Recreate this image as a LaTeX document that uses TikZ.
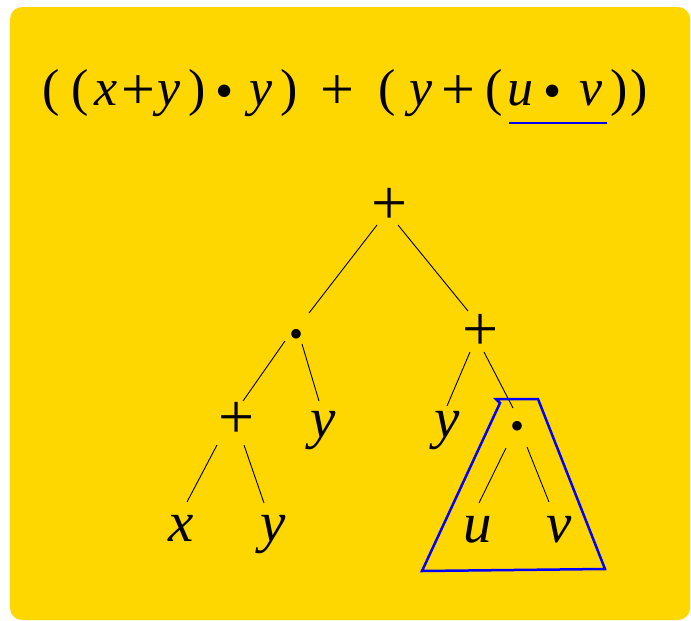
\documentclass[tikz,border=0pt]{standalone}
\usepackage{fontspec}
\setmainfont{Liberation Serif}
\usetikzlibrary{calc}
\definecolor{bggold}{RGB}{255,215,0}
\definecolor{hlblue}{RGB}{0,0,255}
\begin{document}
\begin{tikzpicture}[x=1pt,y=-1pt,
  fml/.style={anchor=base,inner sep=0pt,font=\fontsize{52}{60}\selectfont},
  fmlplus/.style={anchor=base,inner sep=0pt,font=\fontsize{60}{66}\selectfont},
  fmlit/.style={anchor=base,inner sep=0pt,font=\fontsize{52}{60}\selectfont\itshape},
  fmldot/.style={anchor=base,inner sep=0pt,font=\fontsize{52}{60}\selectfont},
  tr/.style={anchor=base,inner sep=0pt,font=\fontsize{64}{70}\selectfont},
  trit/.style={anchor=base,inner sep=0pt,font=\fontsize{57}{64}\selectfont\itshape},
  trdot/.style={anchor=base,inner sep=0pt,font=\fontsize{40}{48}\selectfont},
  edge/.style={draw=black,line width=0.9pt},
  hl/.style={draw=hlblue,line width=2.5pt,line join=miter}]
\useasboundingbox (0,0) rectangle (691,621);
\fill[bggold,rounded corners=12pt] (10,7) rectangle (690,620);
% formula
\node[fml]    (f1)  at (51.5,105) {(};
\node[fml]    (f2)  at (80,105) {(};
\node[fmlit]  (f3)  at (106.5,105) {x};
\node[fmlplus](f4)  at (138.5,109) {+};
\node[fmlit]  (f5)  at (169,105) {y};
\node[fml]    (f6)  at (197.5,105) {)};
\node[fmldot] (f7)  at (225,108.5) {•};
\node[fmlit]  (f8)  at (261.5,105) {y};
\node[fml]    (f9)  at (289,105) {)};
\node[fmlplus](f10) at (337.5,109) {+};
\node[fml]    (f11) at (387.5,105) {(};
\node[fmlit]  (f12) at (421,105) {y};
\node[fmlplus](f13) at (458,109) {+};
\node[fml]    (f14) at (494,105) {(};
\node[fmlit]  (f15) at (520,105) {u};
\node[fmldot] (f16) at (552.5,108.5) {•};
\node[fmlit]  (f17) at (591.5,105) {v};
\node[fml]    (f18) at (619,105) {)};
\node[fml]    (f19) at (639,105) {)};
\draw[draw=hlblue,line width=2pt] (509,122.7) -- (607,122.7);
% tree
\node[tr]    (r0) at (390,224) {+};
\node[trdot] (a)  at (296,347) {•};
\node[tr]    (b)  at (481,350) {+};
\node[tr]    (c)  at (237,438) {+};
\node[trit]  (d)  at (323,437) {y};
\node[trit]  (e)  at (447,437) {y};
\node[trdot] (f)  at (517,439) {•};
\node[trit]  (g)  at (181,541) {x};
\node[trit]  (h)  at (273,541) {y};
\node[trit]  (i)  at (478,542) {u};
\node[trit]  (j)  at (559,542) {v};
\draw[edge] ([shift={(-13,1)}]r0.base) -- ([shift={(13,-34)}]a.base);
\draw[edge] ([shift={(8,1)}]r0.base) -- ([shift={(-13,-39)}]b.base);
\draw[edge] ([shift={(-11,-6)}]a.base) -- ([shift={(6,-37)}]c.base);
\draw[edge] ([shift={(6,-3)}]a.base) -- ([shift={(-4,-36)}]d.base);
\draw[edge] ([shift={(-11,2)}]b.base) -- ([shift={(0,-31)}]e.base);
\draw[edge] ([shift={(3,2)}]b.base) -- ([shift={(-4,-31)}]f.base);
\draw[edge] ([shift={(-20,7)}]c.base) -- ([shift={(6,-39)}]g.base);
\draw[edge] ([shift={(7,7)}]c.base) -- ([shift={(-9,-38)}]h.base);
\draw[edge] ([shift={(-11,9)}]f.base) -- ([shift={(1,-39)}]i.base);
\draw[edge] ([shift={(10,8)}]f.base) -- ([shift={(-10,-40)}]j.base);
% highlight
\draw[hl] (496,399) -- (538,399) -- (605,569) -- (422,571) -- (500,403) -- cycle;
\end{tikzpicture}
\end{document}
